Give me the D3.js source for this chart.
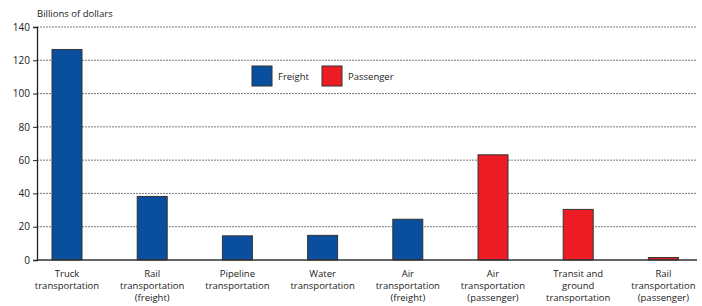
<!DOCTYPE html>
<html>
<head>
<meta charset="utf-8">
<script src="https://cdn.jsdelivr.net/npm/d3@7"></script>
<style>
  body { margin: 0; background: #fff; }
  text { font-family: "Open Sans", "Noto Sans", sans-serif; fill: #222; }
</style>
</head>
<body>
<svg width="702" height="306"></svg>
<script>
// Data
var categories = [
    ["Truck", "transportation"],
    ["Rail", "transportation", "(freight)"],
    ["Pipeline", "transportation"],
    ["Water", "transportation"],
    ["Air", "transportation", "(freight)"],
    ["Air", "transportation", "(passenger)"],
    ["Transit and", "ground", "transportation"],
    ["Rail", "transportation", "(passenger)"]
];
var values = [126.5, 38.2, 14.5, 14.8, 24.5, 63.2, 30.4, 1.5];
var groups = ["Freight", "Freight", "Freight", "Freight", "Freight", "Passenger", "Passenger", "Passenger"];
var yTicks = [0, 20, 40, 60, 80, 100, 120, 140];
var legendItems = ["Freight", "Passenger"];

var svg = d3.select("svg");
var plotLeft = 37, plotRight = 697, plotTop = 27, plotBottom = 260;

var color = d3.scaleOrdinal().domain(legendItems).range(["#0a4f9e", "#ed1c24"]);

var y = d3.scaleLinear().domain([0, 140]).range([plotBottom, plotTop]);
var x = d3.scaleBand()
    .domain(d3.range(categories.length))
    .range([24.4, 706])
    .paddingInner(0.648)
    .paddingOuter(0.324);

// gridlines
svg.append("g")
    .selectAll("line")
    .data(yTicks.filter(function(d) { return d > 0; }))
    .enter().append("line")
    .attr("x1", plotLeft).attr("x2", plotRight)
    .attr("y1", function(d) { return y(d); })
    .attr("y2", function(d) { return y(d); })
    .attr("stroke", "#7a7a7a")
    .attr("stroke-width", 1)
    .attr("stroke-dasharray", "2,1");

// y axis
var yAxis = d3.axisLeft(y).tickValues(yTicks).tickSize(4).tickPadding(3);
var gy = svg.append("g").attr("transform", "translate(" + plotLeft + ",0)").call(yAxis);
gy.select(".domain").attr("stroke", "#222").attr("stroke-width", 1.3);
gy.selectAll(".tick line").attr("stroke", "#222");
gy.selectAll(".tick text").style("font-size", "10px").attr("fill", "#222");

// bars
svg.append("g")
    .selectAll("rect")
    .data(values)
    .enter().append("rect")
    .attr("x", function(d, i) { return x(i); })
    .attr("width", x.bandwidth())
    .attr("y", function(d) { return y(d); })
    .attr("height", function(d) { return plotBottom - y(d); })
    .attr("fill", function(d, i) { return color(groups[i]); })
    .attr("stroke", "#333")
    .attr("stroke-width", 1);

// x baseline
svg.append("line")
    .attr("x1", plotLeft).attr("x2", plotRight)
    .attr("y1", plotBottom).attr("y2", plotBottom)
    .attr("stroke", "#333").attr("stroke-width", 1.5);

// category labels
var labels = svg.append("g")
    .selectAll("text")
    .data(categories)
    .enter().append("text")
    .attr("text-anchor", "middle")
    .style("font-size", "9.5px")
    .attr("transform", function(d, i) { return "translate(" + (x(i) + x.bandwidth() / 2) + ",277)"; });
labels.selectAll("tspan")
    .data(function(d) { return d; })
    .enter().append("tspan")
    .attr("x", 0)
    .attr("y", function(d, i) { return i * 12; })
    .text(function(d) { return d; });

// y title
svg.append("text")
    .attr("x", plotLeft).attr("y", 17)
    .style("font-size", "9.5px")
    .text("Billions of dollars");

// legend
var legendX = [252, 322];
var legend = svg.append("g")
    .selectAll("g")
    .data(legendItems)
    .enter().append("g")
    .attr("transform", function(d, i) { return "translate(" + legendX[i] + ",66)"; });
legend.append("rect")
    .attr("width", 20).attr("height", 20)
    .attr("fill", function(d) { return color(d); })
    .attr("stroke", "#333");
legend.append("text")
    .attr("x", 26).attr("y", 14)
    .style("font-size", "9.5px")
    .text(function(d) { return d; });
</script>
</body>
</html>
